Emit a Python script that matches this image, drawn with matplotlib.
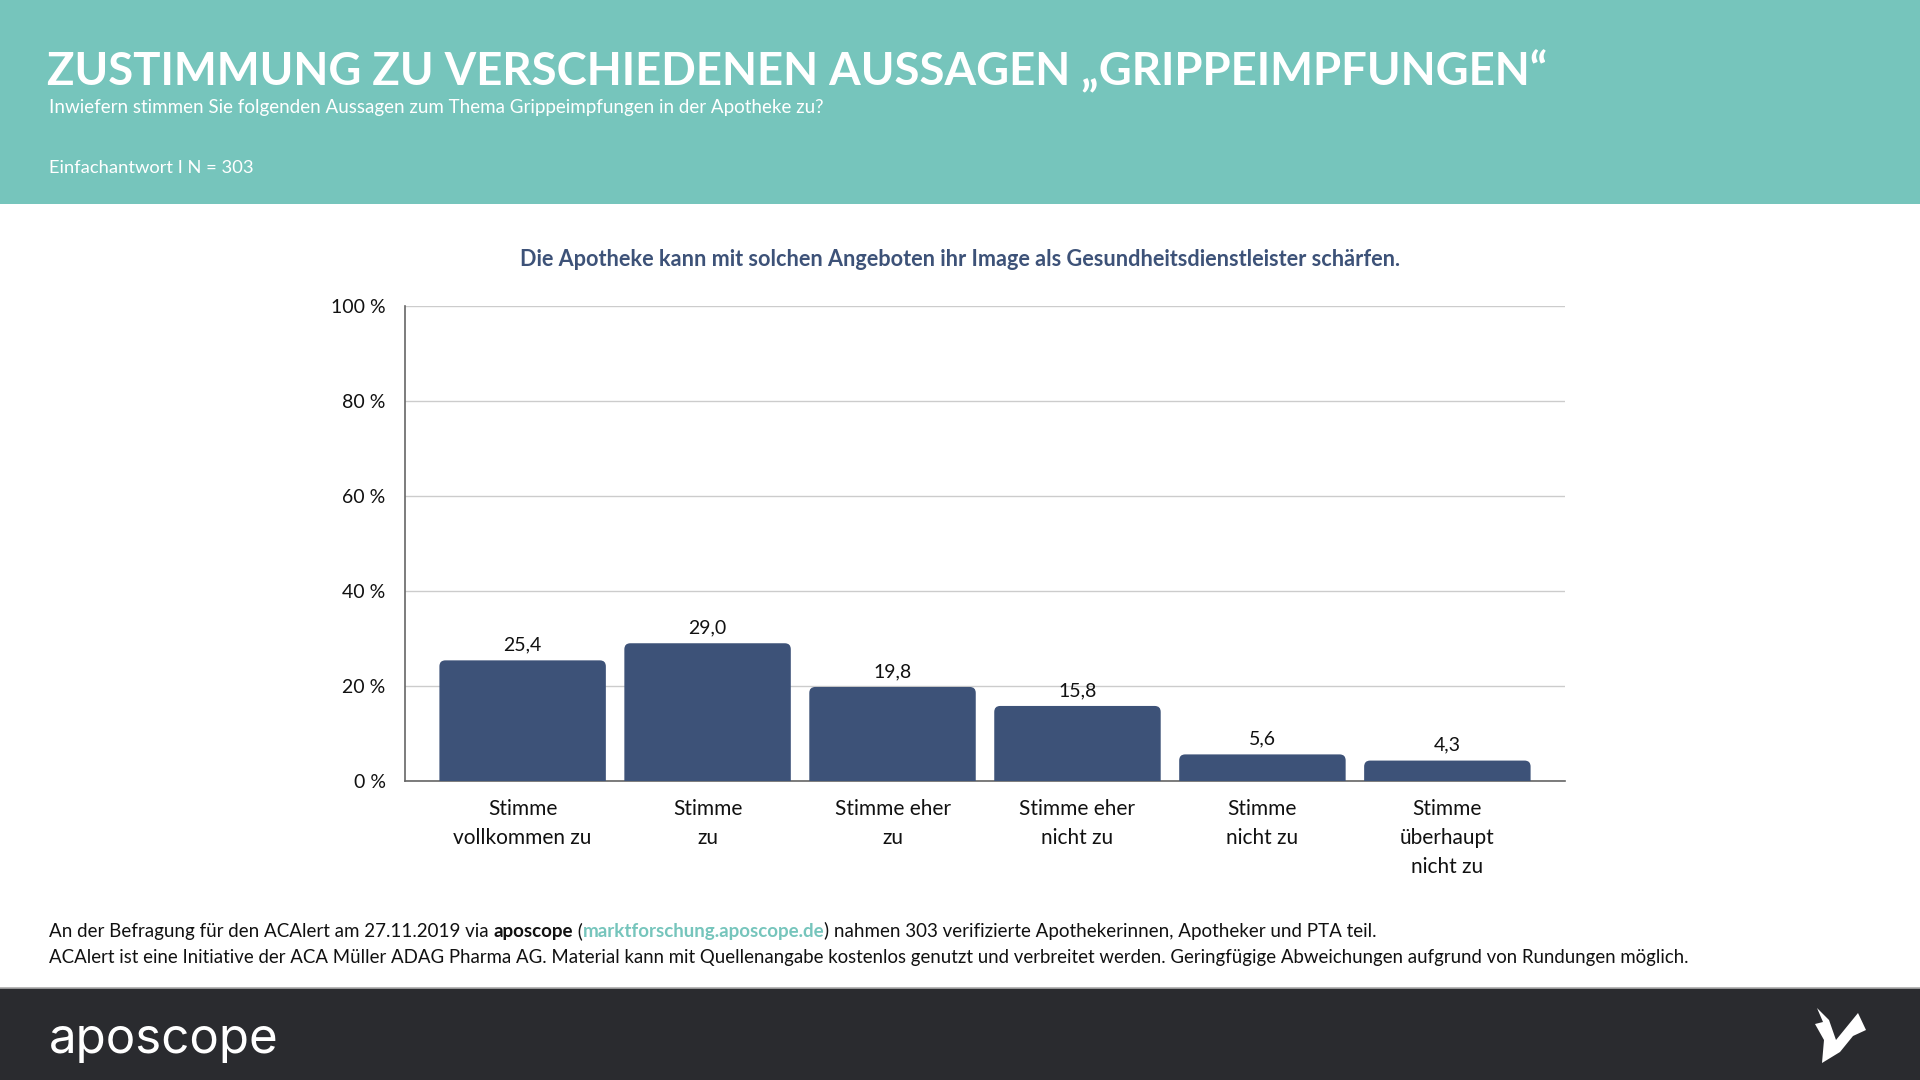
import matplotlib
matplotlib.use("Agg")
import matplotlib.pyplot as plt
from matplotlib.patches import Rectangle, FancyBboxPatch, Polygon
from matplotlib.lines import Line2D

plt.rcParams['font.family'] = ['Lato', 'DejaVu Sans']

# ---- data ----
categories = ["Stimme\nvollkommen zu", "Stimme\nzu", "Stimme eher\nzu",
              "Stimme eher\nnicht zu", "Stimme\nnicht zu", "Stimme\nüberhaupt\nnicht zu"]
values = [25.4, 29.0, 19.8, 15.8, 5.6, 4.3]
yticks = [0, 20, 40, 60, 80, 100]
ytick_labels = ["0 %", "20 %", "40 %", "60 %", "80 %", "100 %"]

title = "ZUSTIMMUNG ZU VERSCHIEDENEN AUSSAGEN „GRIPPEIMPFUNGEN“"
subtitle = "Inwiefern stimmen Sie folgenden Aussagen zum Thema Grippeimpfungen in der Apotheke zu?"
note = "Einfachantwort I N = 303"
chart_title = "Die Apotheke kann mit solchen Angeboten ihr Image als Gesundheitsdienstleister schärfen."

TEAL = "#76C5BC"
NAVY = "#3D5278"
DARK = "#2A2B2F"

W, H = 1920, 1080
fig = plt.figure(figsize=(19.2, 10.8), dpi=100)
fig.patch.set_facecolor("white")

def fy(py):
    return 1 - py / H

def fx(px):
    return px / W

# header band
fig.patches.append(Rectangle((0, fy(204)), 1, 204 / H, transform=fig.transFigure,
                             facecolor=TEAL, edgecolor="none", zorder=0))
# footer band
fig.patches.append(Rectangle((0, 0), 1, 92 / H, transform=fig.transFigure,
                             facecolor=DARK, edgecolor="none", zorder=0))
fig.lines.append(Line2D([0, 1], [fy(988), fy(988)], transform=fig.transFigure,
                        color="#AAAAAA", lw=1.2))

fig.text(fx(47), fy(72), title, color="white", fontsize=32.8, fontweight="bold",
         va="center", ha="left")
fig.text(fx(49), fy(107), subtitle, color="white", fontsize=13.5, va="center", ha="left")
fig.text(fx(49), fy(168), note, color="white", fontsize=13.2, va="center", ha="left")
fig.text(0.5, fy(260), chart_title, color=NAVY, fontsize=15.6, fontweight="bold",
         va="center", ha="center")

# ---- axes ----
ax = fig.add_axes([fx(405), fy(781), (1565 - 405) / W, (781 - 306) / H])
xpos = list(range(len(values)))
bars = ax.bar(xpos, values, width=0.9, color=NAVY, zorder=3)
ax.set_xlim(-0.636, len(values) - 1 + 0.636)
ax.set_ylim(0, 100)

# rounded top corners derived from the bar geometry
px_per_x = (1565 - 405) / (len(values) - 1 + 2 * 0.636)
px_per_y = (781 - 306) / 100
r_px = 6
rx = r_px / px_per_x
ry = r_px / px_per_y
for b in bars:
    x0, w, h = b.get_x(), b.get_width(), b.get_height()
    b.set_visible(False)
    p = FancyBboxPatch((x0 + rx, -ry * 2), w - 2 * rx, h + ry * 2 - ry,
                       boxstyle=f"round,pad={rx},rounding_size={rx}",
                       mutation_aspect=ry / rx, facecolor=NAVY, edgecolor="none",
                       zorder=3, clip_on=True)
    ax.add_patch(p)

labels = [f"{v:.1f}".replace(".", ",") for v in values]
ax.bar_label(bars, labels=labels, padding=5, fontsize=14, color="#111111")

ax.set_yticks(yticks)
ax.set_yticklabels(ytick_labels)
ax.set_xticks(xpos)
ax.set_xticklabels(categories, linespacing=1.55)
ax.tick_params(axis="y", length=0, pad=14, labelsize=14, labelcolor="#111111")
ax.tick_params(axis="x", length=0, pad=13, labelsize=15, labelcolor="#111111")
ax.grid(axis="y", color="#CCCCCC", lw=1, zorder=0)
ax.set_axisbelow(True)
for s in ["top", "right"]:
    ax.spines[s].set_visible(False)
ax.spines["left"].set_color("#666666")
ax.spines["bottom"].set_color("#666666")
ax.spines["left"].set_linewidth(1.2)
ax.spines["bottom"].set_linewidth(1.2)

# ---- footer text ----
fs = 13.5
t = fig.text(fx(49), fy(932), "An der Befragung für den ACAlert am 27.11.2019 via ",
             fontsize=fs, color="#111111", va="center", ha="left")
t = ax.annotate("aposcope", xy=(1, 0), xycoords=t, va="bottom", ha="left",
                fontsize=fs, fontweight="bold", color="#111111", annotation_clip=False)
t = ax.annotate(" (", xy=(1, 0), xycoords=t, va="bottom", ha="left",
                fontsize=fs, color="#111111", annotation_clip=False)
t = ax.annotate("marktforschung.aposcope.de", xy=(1, 0), xycoords=t, va="bottom", ha="left",
                fontsize=fs, fontweight="bold", color=TEAL, annotation_clip=False)
t = ax.annotate(") nahmen 303 verifizierte Apothekerinnen, Apotheker und PTA teil.", xy=(1, 0),
                xycoords=t, va="bottom", ha="left", fontsize=fs, color="#111111",
                annotation_clip=False)
fig.text(fx(49), fy(957),
         "ACAlert ist eine Initiative der ACA Müller ADAG Pharma AG. Material kann mit "
         "Quellenangabe kostenlos genutzt und verbreitet werden. Geringfügige Abweichungen "
         "aufgrund von Rundungen möglich.",
         fontsize=13.4, color="#111111", va="center", ha="left")

# logo text
fig.text(fx(49), fy(1040), "aposcope", fontsize=35.5, color="white", va="center", ha="left",
         family=["Inter", "DejaVu Sans"])

# bird icon
bird = [(1817, 1008), (1829, 1020), (1836, 1040), (1858, 1013), (1866, 1030),
        (1853, 1036), (1840, 1052), (1822, 1063), (1824, 1040), (1815, 1024), (1823, 1022)]
fig.patches.append(Polygon([(fx(x), fy(y)) for x, y in bird], closed=True,
                           transform=fig.transFigure, facecolor="white", edgecolor="none"))

fig.savefig("out.png", dpi=100)
